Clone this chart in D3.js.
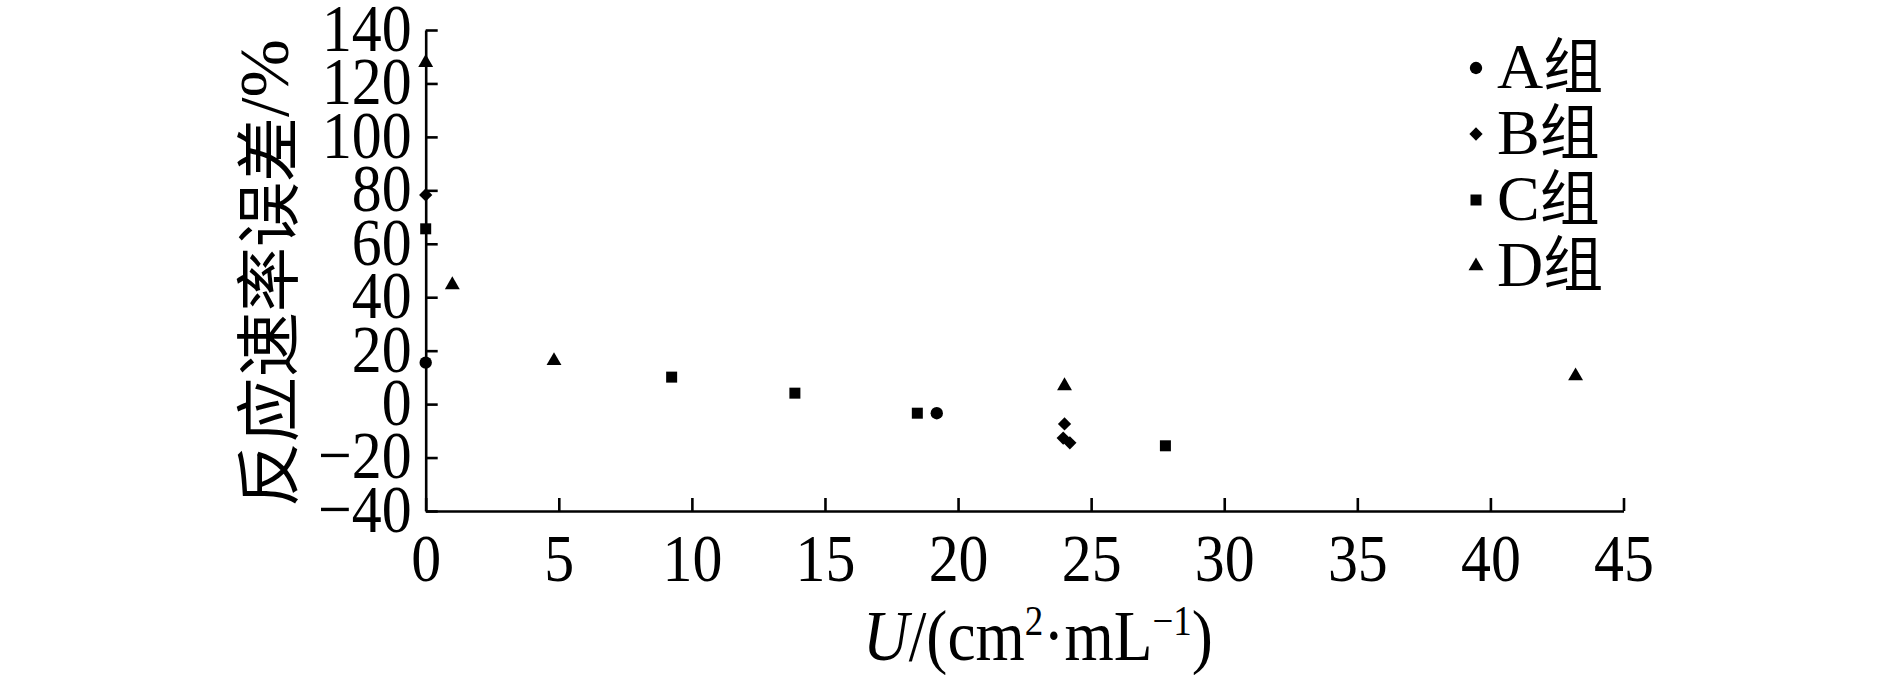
<html>
<head>
<script src="https://cdn.jsdelivr.net/npm/d3@7"></script>
<style>
  body { margin: 0; background: #fff; }
  svg { display: block; }
</style>
</head>
<body>
<svg></svg>
<script>
  // data
  const groupNames = ["A组", "B组", "C组", "D组"];
  const groupA = [[0, 15.5], [19.2, -3.4]];
  const groupB = [[0, 78.3], [24.0, -7.4], [23.95, -12.7], [24.2, -14.5]];
  const groupC = [[0, 65.6], [9.24, 10.1], [13.87, 4.1], [18.47, -3.4], [27.79, -15.6]];
  const groupD = [[0, 127.8], [1.0, 44.6], [4.82, 16.2], [24.0, 6.8], [43.2, 10.5]];
  const xTicks = [0, 5, 10, 15, 20, 25, 30, 35, 40, 45];
  const yTicks = [-40, -20, 0, 20, 40, 60, 80, 100, 120, 140];

  const width = 1890, height = 675;
  const serif = "'Liberation Serif', 'Times New Roman', serif";
  const cjk = "'Noto Sans CJK SC', sans-serif";
  const squeeze = 0.88;

  const svg = d3.select("svg").attr("width", width).attr("height", height);
  svg.append("rect").attr("width", width).attr("height", height).attr("fill", "#fff");

  const x = d3.scaleLinear().domain([0, 45]).range([425.7, 1623.5]);
  const y = d3.scaleLinear().domain([-40, 140]).range([511, 30]);

  // x axis
  const gx = svg.append("g")
    .attr("transform", "translate(0," + y(-40) + ")")
    .call(d3.axisBottom(x).tickValues(xTicks).tickSizeInner(-13).tickSizeOuter(0).tickPadding(22));
  // y axis
  const gy = svg.append("g")
    .attr("transform", "translate(" + x(0) + ",0)")
    .call(d3.axisLeft(y).tickValues(yTicks).tickSizeInner(-12).tickSizeOuter(0).tickPadding(14));

  [gx, gy].forEach(function(g) {
    g.select(".domain").attr("stroke", "#000").attr("stroke-width", 2.6);
    g.selectAll(".tick line").attr("stroke", "#000").attr("stroke-width", 2.6);
    g.selectAll(".tick text")
      .attr("fill", "#000")
      .style("font-family", serif)
      .style("font-size", "68px")
      .attr("transform", "scale(" + squeeze + ",1)");
  });
  gy.selectAll(".tick text").attr("x", -14 / squeeze).attr("dy", "0.3em");

  // x axis title
  const xt = svg.append("text")
    .attr("transform", "translate(863,660) scale(" + squeeze + ",1)")
    .style("font-family", serif)
    .style("font-size", "72px")
    .attr("fill", "#000");
  xt.append("tspan").style("font-style", "italic").text("U");
  xt.append("tspan").text("/(cm");
  xt.append("tspan").attr("dy", -25).style("font-size", "42px").text("2");
  xt.append("tspan").attr("dy", 25).text("·mL");
  xt.append("tspan").attr("dy", -25).style("font-size", "42px").text("−1");
  xt.append("tspan").attr("dy", 25).text(")");

  // y axis title
  const yt = svg.append("text")
    .attr("transform", "translate(264,507) rotate(-90)")
    .attr("dominant-baseline", "central")
    .attr("fill", "#000");
  yt.append("tspan").style("font-family", cjk).style("font-size", "65px").text("反应速率误差");
  yt.append("tspan").style("font-family", serif).style("font-size", "70px").text("/%");

  // markers
  const shapes = [
    { sym: d3.symbolCircle, size: 120, rot: 0 },
    { sym: d3.symbolSquare, size: 88, rot: 45 },
    { sym: d3.symbolSquare, size: 121, rot: 0 },
    { sym: d3.symbolTriangle, size: 96, rot: 0 }
  ];
  const series = [groupA, groupB, groupC, groupD];

  series.forEach(function(pts, i) {
    const s = shapes[i];
    svg.append("g").selectAll("path")
      .data(pts)
      .enter().append("path")
      .attr("d", d3.symbol(s.sym, s.size))
      .attr("fill", "#000")
      .attr("transform", function(d) {
        return "translate(" + x(d[0]) + "," + y(d[1]) + ") rotate(" + s.rot + ")";
      });
  });

  // legend
  const legend = svg.append("g").attr("transform", "translate(1476,68)");
  groupNames.forEach(function(name, i) {
    const s = shapes[i];
    const row = legend.append("g").attr("transform", "translate(0," + (i * 66) + ")");
    row.append("path")
      .attr("d", d3.symbol(s.sym, s.size))
      .attr("fill", "#000")
      .attr("transform", "rotate(" + s.rot + ")");
    const t = row.append("text").attr("x", 21).attr("y", 20).attr("fill", "#000");
    t.append("tspan").style("font-family", serif).style("font-size", "64px").text(name.slice(0, 1));
    t.append("tspan").style("font-family", cjk).style("font-size", "60px").text(name.slice(1));
  });
</script>
</body>
</html>
